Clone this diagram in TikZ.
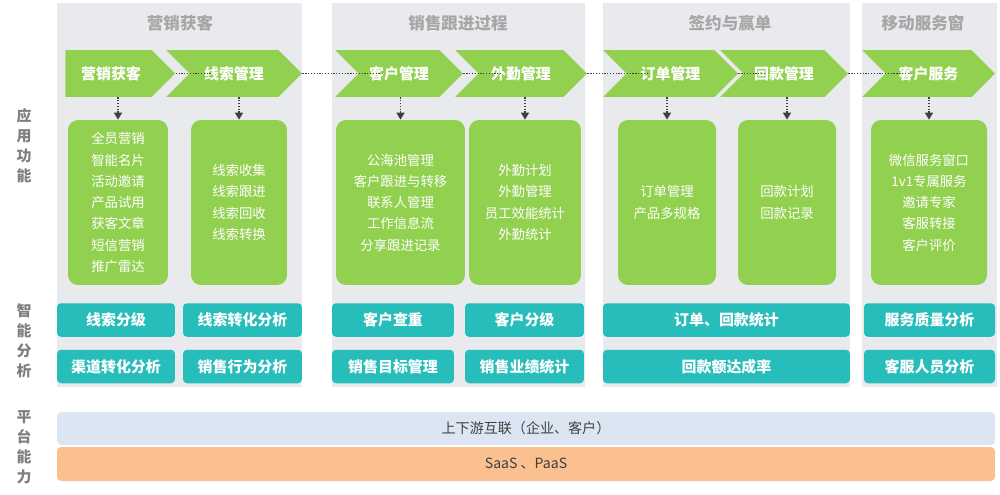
\documentclass[tikz,border=0pt]{standalone}
\usepackage{fontspec}
\setmainfont{Noto Sans CJK SC}
\usepackage{tikz}
\usetikzlibrary{arrows.meta,positioning,shapes.symbols,calc}
\definecolor{leafgreen}{RGB}{146,208,80}
\definecolor{tealbox}{RGB}{38,189,186}
\definecolor{panelgray}{RGB}{233,234,238}
\definecolor{titlegray}{RGB}{166,166,166}
\definecolor{labelgray}{RGB}{127,127,127}
\definecolor{dotgray}{RGB}{64,64,64}
\definecolor{lightblue}{RGB}{220,230,242}
\definecolor{lightorange}{RGB}{250,192,144}

\begin{document}
\begin{tikzpicture}[
        x=0.02cm, y=-0.02cm,
        panel/.style={fill=panelgray, draw=none},
        title/.style={text=titlegray, font=\bfseries\fontsize{9.4}{11}\selectfont},
        sidelabel/.style={text=labelgray, align=center, inner sep=0pt, font=\bfseries\fontsize{8.5}{11.4}\selectfont},
        chevron/.style={signal, signal from=west, signal to=east, signal pointer angle=90, fill=leafgreen, text=white, inner sep=0pt, minimum height=0.94cm, font=\bfseries\fontsize{8.5}{10}\selectfont},
        featbox/.style={rectangle, fill=leafgreen, rounded corners=0.2cm, text=white, align=center, minimum height=3.3cm, inner sep=0pt, font=\fontsize{7.6}{12.1}\selectfont},
        anabox/.style={rectangle, fill=tealbox, rounded corners=0.08cm, text=white, minimum height=0.67cm, inner sep=0pt, font=\bfseries\fontsize{8.5}{10}\selectfont},
        platbar/.style={rectangle, rounded corners=0.08cm, minimum width=18.76cm, text=dotgray, inner sep=0pt, font=\fontsize{8}{10}\selectfont},
        flow/.style={dotgray, line width=1pt, dash pattern=on 0.7pt off 0.9pt},
        drop/.style={flow, -{Triangle[length=4pt,width=4.5pt]}}
    ]
    \useasboundingbox (0,0) rectangle (1000,494);

    \fill[panel] (57,3) rectangle (302,387);
    \fill[panel] (332,3) rectangle (585,387);
    \fill[panel] (603,3) rectangle (850,387);
    \fill[panel] (862,3) rectangle (997,387);

    \node[title] (t1) at (180,23.5) {营销获客};
    \node[title] (t2) at (458,23.5) {销售跟进过程};
    \node[title] (t3) at (730,23.5) {签约与赢单};
    \node[title] (t4) at (923,23.5) {移动服务窗};

    \node[sidelabel] (lapp) at (24,145.5) {应\\用\\功\\能};
    \node[sidelabel] (lana) at (24,341) {智\\能\\分\\析};
    \node[sidelabel] (lplat) at (24,447) {平\\台\\能\\力};

    \node[chevron, signal from=nowhere, minimum width=2.2cm] (c1) at (108.5,73.5) {\hspace{0.1cm}营销获客};
    \node[chevron, minimum width=2.72cm] (c2) at (234,73.5) {线索管理};
    \node[chevron, minimum width=2.56cm] (c3) at (399,73.5) {客户管理};
    \node[chevron, minimum width=2.64cm] (c4) at (521,73.5) {外勤管理};
    \node[chevron, minimum width=2.7cm] (c5) at (670.5,73.5) {订单管理};
    \node[chevron, minimum width=2.56cm] (c6) at (784,73.5) {回款管理};
    \node[chevron, minimum width=2.66cm] (c7) at (928.5,73.5) {客户服务};

    \node[featbox, minimum width=2.0cm] (b1) at (118,202.5) {全员营销\\智能名片\\活动邀请\\产品试用\\获客文章\\短信营销\\推广雷达};
    \node[featbox, minimum width=1.92cm] (b2) at (239,202.5) {线索收集\\线索跟进\\线索回收\\线索转换};
    \node[featbox, minimum width=2.58cm] (b3) at (400.5,202.5) {公海池管理\\客户跟进与转移\\联系人管理\\工作信息流\\分享跟进记录};
    \node[featbox, minimum width=2.24cm] (b4) at (525,202.5) {外勤计划\\外勤管理\\员工效能统计\\外勤统计};
    \node[featbox, minimum width=1.96cm] (b5) at (667,202.5) {订单管理\\产品多规格};
    \node[featbox, minimum width=1.96cm] (b6) at (787,202.5) {回款计划\\回款记录};
    \node[featbox, minimum width=2.32cm] (b7) at (929,202.5) {微信服务窗口\\1v1专属服务\\邀请专家\\客服转接\\客户评价};

    \foreach \i/\j in {1/2,2/3,3/4,4/5,5/6,6/7}
        \draw[flow] (c\i.east) -- ($(c\j.west)+(23,0)$);
    \foreach \i in {1,...,7}
        \draw[drop] (c\i.south -| b\i.north) -- (b\i.north);

    \node[anabox, minimum width=2.36cm] (a1) at (116,320) {线索分级};
    \node[anabox, minimum width=2.38cm] (a2) at (242.5,320) {线索转化分析};
    \node[anabox, minimum width=2.44cm] (a3) at (393,320) {客户查重};
    \node[anabox, minimum width=2.38cm] (a4) at (524.5,320) {客户分级};
    \node[anabox, minimum width=4.94cm] (a5) at (726.5,320) {订单、回款统计};
    \node[anabox, minimum width=2.62cm] (a6) at (929.5,320) {服务质量分析};
    \node[anabox, minimum width=2.36cm] (a7) at (116,366.5) {渠道转化分析};
    \node[anabox, minimum width=2.38cm] (a8) at (242.5,366.5) {销售行为分析};
    \node[anabox, minimum width=2.44cm] (a9) at (393,366.5) {销售目标管理};
    \node[anabox, minimum width=2.38cm] (a10) at (524.5,366.5) {销售业绩统计};
    \node[anabox, minimum width=4.94cm] (a11) at (726.5,366.5) {回款额达成率};
    \node[anabox, minimum width=2.62cm] (a12) at (929.5,366.5) {客服人员分析};

    \node[platbar, fill=lightblue, minimum height=0.66cm] (link) at (526,428.5) {上下游互联（企业、客户）};
    \node[platbar, fill=lightorange, minimum height=0.68cm] (saas) at (526,464) {SaaS 、PaaS};
    \end{tikzpicture}
\end{document}
